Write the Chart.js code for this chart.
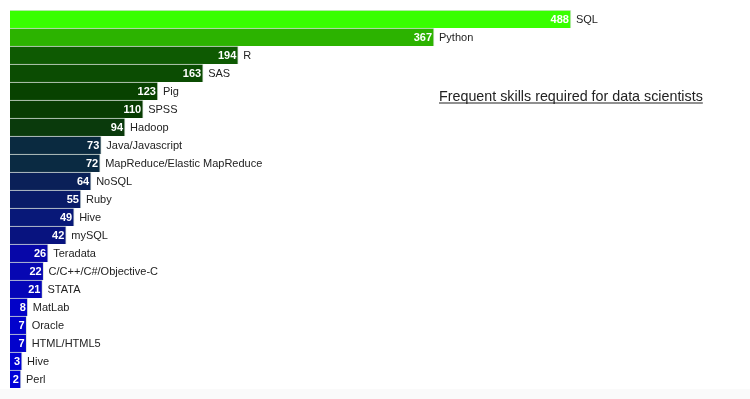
<!DOCTYPE html>
<html>
<head>
<meta charset="utf-8">
<script src="https://cdn.jsdelivr.net/npm/chart.js@4"></script>
<style>
  html, body { margin: 0; padding: 0; background: #fff; }
  #wrap { position: relative; width: 750px; height: 399px; }
  #strip { position: absolute; left: 0; top: 389px; width: 750px; height: 10px; background: #fafafa; }
</style>
</head>
<body>
<div id="wrap">
  <canvas id="chart" width="750" height="399"></canvas>
  <div id="strip"></div>
</div>
<script>
// skills and counts, top to bottom
const skills = ['SQL', 'Python', 'R', 'SAS', 'Pig', 'SPSS', 'Hadoop', 'Java/Javascript',
    'MapReduce/Elastic MapReduce', 'NoSQL', 'Ruby', 'Hive', 'mySQL', 'Teradata',
    'C/C++/C#/Objective-C', 'STATA', 'MatLab', 'Oracle', 'HTML/HTML5', 'Hive', 'Perl'];
const counts = [488, 367, 194, 163, 123, 110, 94, 73, 72, 64, 55, 49, 42, 26, 22, 21, 8, 7, 7, 3, 2];
const barColors = ['#38ff00', '#2cb300', '#0e5a02', '#0b4c02', '#084200', '#083c02', '#0a3a0c',
    '#0a2a40', '#0a2a42', '#0a2058', '#091b68', '#081878', '#08137f', '#0707a8', '#0707b2',
    '#0505b8', '#0202c8', '#0202cc', '#0202cc', '#0000d4', '#0000d8'];
const chartTitle = 'Frequent skills required for data scientists';

// draws value inside the bar end and the skill name after it
const barLabels = {
    id: 'barLabels',
    afterDatasetsDraw(chart) {
        const ctx = chart.ctx;
        const meta = chart.getDatasetMeta(0);
        ctx.save();
        ctx.textBaseline = 'middle';
        meta.data.forEach((bar, i) => {
            const y = bar.y + 1;
            ctx.font = 'bold 11px "Liberation Sans", Arial, sans-serif';
            ctx.fillStyle = '#fff';
            ctx.textAlign = 'right';
            ctx.fillText(counts[i], bar.x - 2, y);
            ctx.font = '11px "Liberation Sans", Arial, sans-serif';
            ctx.fillStyle = '#222';
            ctx.textAlign = 'left';
            ctx.fillText(skills[i], bar.x + 5, y);
        });
        // title, underlined
        ctx.font = '14.3px "Liberation Sans", Arial, sans-serif';
        ctx.fillStyle = '#222';
        ctx.textAlign = 'left';
        ctx.textBaseline = 'alphabetic';
        const tx = 439, ty = 101;
        ctx.fillText(chartTitle, tx, ty);
        const w = ctx.measureText(chartTitle).width;
        ctx.fillRect(tx, ty + 1.5, w, 1);
        ctx.restore();
    }
};

new Chart(document.getElementById('chart'), {
    type: 'bar',
    data: {
        labels: skills,
        datasets: [{
            data: counts,
            base: -7.7,
            backgroundColor: barColors,
            borderColor: 'rgba(215,225,215,0.9)',
            borderWidth: { top: 1, right: 1, bottom: 0, left: 0 },
            borderSkipped: false,
            barPercentage: 1,
            categoryPercentage: 1
        }]
    },
    options: {
        indexAxis: 'y',
        responsive: false,
        animation: false,
        layout: { padding: { left: 10, right: 0, top: 10, bottom: 11 } },
        plugins: {
            legend: { display: false },
            tooltip: { enabled: false }
        },
        scales: {
            x: { display: false, min: -7.7, max: 646.2 },
            y: { display: false }
        }
    },
    plugins: [barLabels]
});
</script>
</body>
</html>
